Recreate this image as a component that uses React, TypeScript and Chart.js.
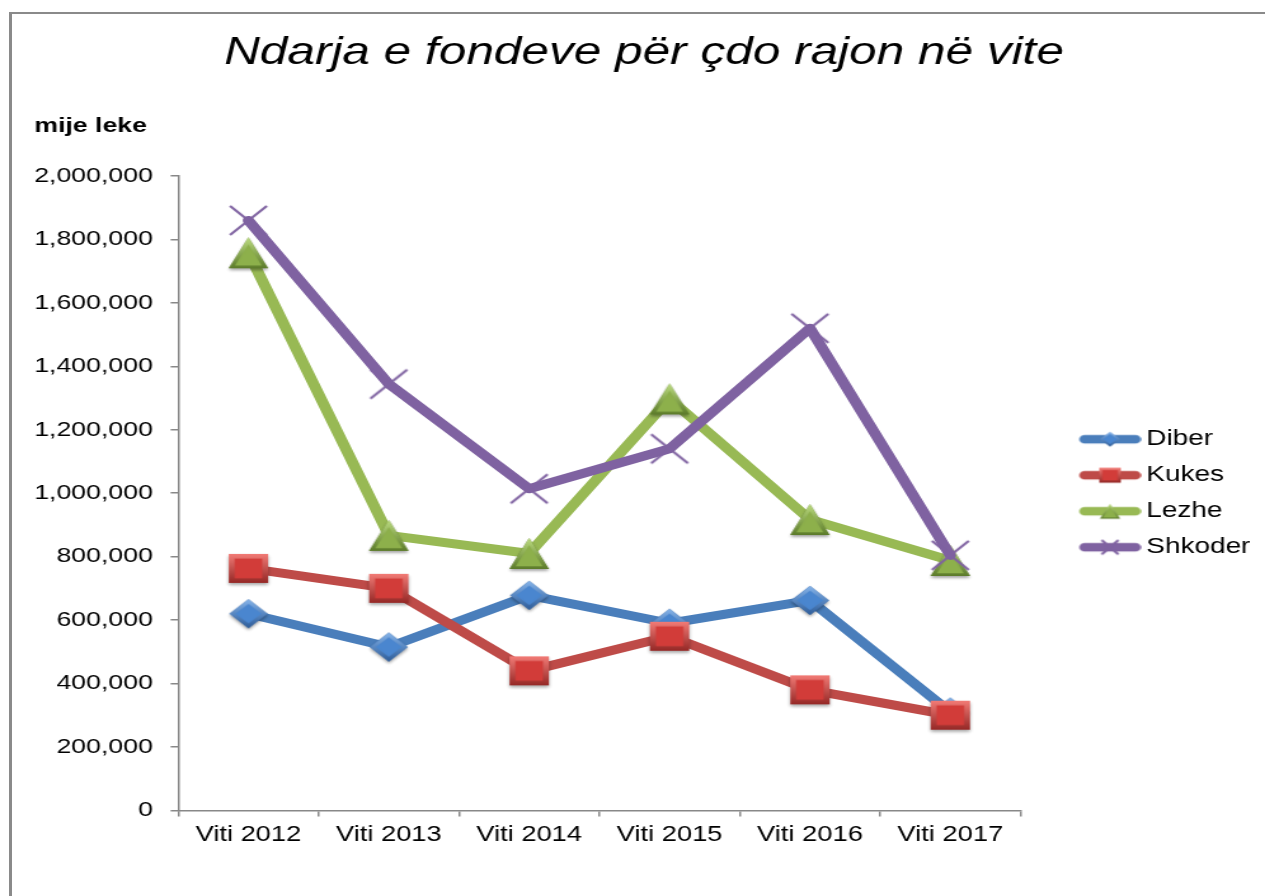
import React, { useEffect, useRef } from "react";
import { Chart, registerables } from "chart.js";

Chart.register(...registerables);

// ---- data ----
const categories = ["Viti 2012", "Viti 2013", "Viti 2014", "Viti 2015", "Viti 2016", "Viti 2017"];
const seriesNames = ["Diber", "Kukes", "Lezhe", "Shkoder"];
const diberValues = [620000, 515000, 678000, 590000, 662000, 310000];
const kukesValues = [763000, 700000, 440000, 549000, 380000, 300000];
const lezheValues = [1758000, 867000, 810000, 1297000, 917000, 788000];
const shkoderValues = [1860000, 1344000, 1014000, 1140000, 1520000, 804000];
const yMin = 0;
const yMax = 2000000;
const yStep = 200000;
const titleText = "Ndarja e fondeve për çdo rajon në vite";
const unitText = "mije leke";

// ---- layout / style ----
const W = 996; // internal width; picture is stretched horizontally to 1265
const H = 896;
const FONT = "'Liberation Sans', Arial, sans-serif";

type Kind = "diamond" | "square" | "triangle" | "cross";
type Pal = { line: string; light: string; base: string; dark: string };

const palettes: Pal[] = [
  { line: "#4a7ebb", light: "#86b4ea", base: "#4a86cf", dark: "#2d5c99" },
  { line: "#be4b48", light: "#f27b76", base: "#d23c39", dark: "#952826" },
  { line: "#98b954", light: "#bcdc80", base: "#8db04b", dark: "#5c7b2a" },
  { line: "#7f62a1", light: "#9c84bb", base: "#7f62a1", dark: "#5d4580" },
];
const kinds: Kind[] = ["diamond", "square", "triangle", "cross"];

function shapePath(ctx: CanvasRenderingContext2D, kind: Kind, cx: number, cy: number, w: number, h: number) {
  ctx.beginPath();
  if (kind === "diamond") {
    ctx.moveTo(cx, cy - h / 2);
    ctx.lineTo(cx + w / 2, cy);
    ctx.lineTo(cx, cy + h / 2);
    ctx.lineTo(cx - w / 2, cy);
    ctx.closePath();
  } else if (kind === "square") {
    ctx.rect(cx - w / 2, cy - h / 2, w, h);
  } else if (kind === "triangle") {
    ctx.moveTo(cx, cy - h / 2);
    ctx.lineTo(cx + w / 2, cy + h / 2);
    ctx.lineTo(cx - w / 2, cy + h / 2);
    ctx.closePath();
  }
}

function drawMarker(ctx: CanvasRenderingContext2D, kind: Kind, cx: number, cy: number, w: number, h: number, p: Pal, shadow: boolean) {
  if (kind === "cross") {
    ctx.save();
    ctx.strokeStyle = p.base;
    ctx.lineWidth = 2.2;
    ctx.beginPath();
    ctx.moveTo(cx - w / 2, cy - h / 2);
    ctx.lineTo(cx + w / 2, cy + h / 2);
    ctx.moveTo(cx + w / 2, cy - h / 2);
    ctx.lineTo(cx - w / 2, cy + h / 2);
    ctx.stroke();
    ctx.restore();
    return;
  }
  if (shadow) {
    ctx.save();
    ctx.shadowColor = "rgba(0,0,0,0.35)";
    ctx.shadowBlur = 3;
    ctx.shadowOffsetY = 2;
    shapePath(ctx, kind, cx, cy, w, h);
    ctx.fillStyle = p.dark;
    ctx.fill();
    ctx.restore();
  }
  const g = ctx.createLinearGradient(0, cy - h / 2, 0, cy + h / 2);
  g.addColorStop(0, p.light);
  g.addColorStop(1, p.dark);
  shapePath(ctx, kind, cx, cy, w, h);
  ctx.fillStyle = g;
  ctx.fill();
  const inset = Math.min(w, h) * 0.16;
  const off = kind === "triangle" ? inset * 0.45 : 0;
  shapePath(ctx, kind, cx, cy + off, w - inset * 2, h - inset * 2);
  ctx.fillStyle = p.base;
  ctx.fill();
}

function makeMarker(kind: Kind, w: number, h: number, p: Pal): HTMLCanvasElement {
  const pad = 5;
  const c = document.createElement("canvas");
  c.width = Math.ceil(w + pad * 2);
  c.height = Math.ceil(h + pad * 2);
  const ctx = c.getContext("2d") as CanvasRenderingContext2D;
  drawMarker(ctx, kind, c.width / 2, c.height / 2, w, h, p, true);
  return c;
}

function makeLegendImage(kind: Kind, p: Pal, imgW: number, lineStart: number): HTMLCanvasElement {
  const c = document.createElement("canvas");
  c.width = imgW;
  c.height = 22;
  const ctx = c.getContext("2d") as CanvasRenderingContext2D;
  const cy = c.height / 2;
  ctx.strokeStyle = p.line;
  ctx.lineWidth = 8.5;
  ctx.lineCap = "round";
  ctx.beginPath();
  ctx.moveTo(lineStart + 4.5, cy);
  ctx.lineTo(imgW - 4.5, cy);
  ctx.stroke();
  const mx = (lineStart + imgW) / 2;
  if (kind === "cross") drawMarker(ctx, kind, mx, cy, 12, 13, p, false);
  else if (kind === "square") drawMarker(ctx, kind, mx, cy, 17, 15, p, false);
  else drawMarker(ctx, kind, mx, cy, 16, 15, p, false);
  return c;
}

export default function App() {
  const ref = useRef<HTMLCanvasElement>(null);

  useEffect(() => {
    if (!ref.current) return;
    const seriesValues = [diberValues, kukesValues, lezheValues, shkoderValues];
    const markerSizes: Record<Kind, [number, number]> = {
      diamond: [30, 29],
      square: [31, 29],
      triangle: [31, 31],
      cross: [29, 29],
    };
    const markers = kinds.map((k, i) => makeMarker(k, markerSizes[k][0], markerSizes[k][1], palettes[i]));
    const legendImgs = kinds.map((k, i) => makeLegendImage(k, palettes[i], 88, 39));

    const chart = new Chart(ref.current, {
      type: "line",
      data: {
        labels: categories,
        datasets: seriesNames.map((name, i) => ({
          label: name,
          data: seriesValues[i],
          borderColor: palettes[i].line,
          backgroundColor: palettes[i].line,
          borderWidth: 9,
          borderJoinStyle: "round" as const,
          borderCapStyle: "round" as const,
          tension: 0,
          pointStyle: markers[i] as any,
          pointRadius: 15,
          pointHoverRadius: 15,
          order: seriesNames.length - i,
          clip: false as any,
        })),
      },
      options: {
        responsive: false,
        maintainAspectRatio: false,
        animation: false,
        devicePixelRatio: 1,
        events: [],
        layout: { padding: { left: 27, right: 9, top: 0, bottom: 41.8 } },
        plugins: {
          title: {
            display: true,
            text: titleText,
            color: "#000",
            font: { family: FONT, size: 39, style: "italic", weight: "normal" },
            padding: { top: 29.6, bottom: 20 },
          },
          subtitle: {
            display: true,
            text: unitText,
            align: "start",
            color: "#000",
            font: { family: FONT, size: 21, weight: "bold" },
            padding: { top: 17.6, bottom: 36.8 },
          },
          legend: {
            display: true,
            position: "right",
            align: "center",
            fullSize: false,
            maxWidth: 183.5,
            labels: {
              color: "#000",
              font: { family: FONT, size: 22 },
              usePointStyle: true,
              pointStyleWidth: 74,
              boxHeight: 22,
              padding: 14,
              generateLabels: (c: any) =>
                c.data.datasets.map((ds: any, i: number) => ({
                  text: ds.label,
                  pointStyle: legendImgs[i],
                  fillStyle: ds.borderColor,
                  strokeStyle: ds.borderColor,
                  lineWidth: 0,
                  hidden: false,
                  datasetIndex: i,
                })),
            },
          },
          tooltip: { enabled: false },
        },
        scales: {
          x: {
            type: "category",
            offset: true,
            grid: {
              display: true,
              drawOnChartArea: false,
              drawTicks: true,
              tickLength: 6,
              color: "#888",
              lineWidth: 1.5,
              offset: true,
            },
            border: { display: true, color: "#888", width: 1.5 },
            ticks: {
              color: "#000",
              font: { family: FONT, size: 21.5 },
              padding: 6,
              maxRotation: 0,
              autoSkip: false,
            },
          },
          y: {
            min: yMin,
            max: yMax,
            afterFit: (scale: any) => {
              scale.width -= 14.1;
            },
            grid: {
              display: true,
              drawOnChartArea: false,
              drawTicks: true,
              tickLength: 6,
              color: "#888",
              lineWidth: 1.5,
            },
            border: { display: true, color: "#888", width: 1.5 },
            ticks: {
              stepSize: yStep,
              color: "#000",
              font: { family: FONT, size: 21 },
              padding: 14,
              callback: (v: any) => Number(v).toLocaleString("en-US"),
            },
          },
        },
      },
    });
    return () => chart.destroy();
  }, []);

  return (
    <div style={{ position: "absolute", left: 0, top: 0, width: 1265, height: 896, overflow: "hidden", background: "#fff" }}>
      <div
        style={{
          position: "absolute",
          left: 9,
          top: 12,
          width: 1400,
          height: 1000,
          borderLeft: "3px solid #8a8a8a",
          borderTop: "2px solid #8a8a8a",
        }}
      />
      <div
        style={{
          position: "absolute",
          left: 0,
          top: 0,
          width: W,
          height: H,
          transform: `scaleX(${1265 / W})`,
          transformOrigin: "0 0",
        }}
      >
        <canvas ref={ref} width={W} height={H} style={{ display: "block", width: W, height: H }} />
      </div>
    </div>
  );
}
